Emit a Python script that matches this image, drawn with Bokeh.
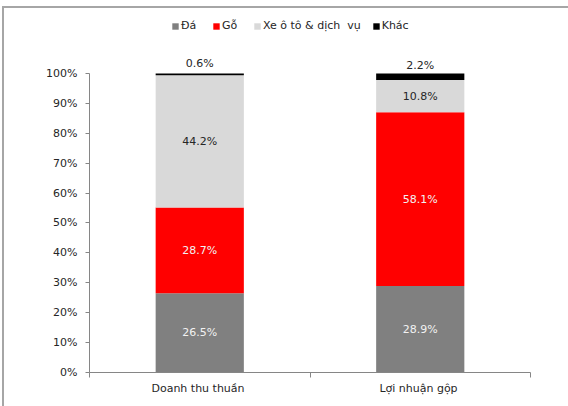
from bokeh.plotting import figure
from bokeh.layouts import column
from bokeh.models import (ColumnDataSource, Legend, LegendItem, FixedTicker,
                          NumeralTickFormatter, Range1d, Div)
from bokeh.core.properties import value
from bokeh.embed import file_html
from bokeh.resources import INLINE

categories = ["Doanh thu  thuần", "Lợi nhuận  gộp"]
series = ["Đá", "Gỗ", "Xe ô tô & dịch  vụ", "Khác"]
da = [26.5, 28.9]
go = [28.7, 58.1]
xe = [44.2, 10.8]
khac = [0.6, 2.2]
colors = ["#808080", "#FF0000", "#D9D9D9", "#000000"]
label_colors = ["#F2F2F2", "#F2F2F2", "#262626", "#262626"]
y_ticks = [0, 10, 20, 30, 40, 50, 60, 70, 80, 90, 100]

FONT = "DejaVu Sans"

xs = [i + 0.5 for i in range(len(categories))]
vals = [da, go, xe, khac]
keys = ["da", "go", "xe", "khac"]
data = {"x": xs}
for k, v in zip(keys, vals):
    data[k] = [a / 100 for a in v]
source = ColumnDataSource(data)

W, H = 564, 398
p = figure(width=W, height=H, output_backend="svg", toolbar_location=None,
           x_range=Range1d(0, len(categories)), y_range=Range1d(0, 1.204),
           min_border_left=85, min_border_right=38, min_border_top=4,
           min_border_bottom=34)
p.styles = {"margin-left": "2px", "box-shadow": "-2px 0px 0px 0px #a6a6a6"}
p.outline_line_color = None
p.grid.visible = False
p.background_fill_color = "white"
p.border_fill_color = "white"

rs = p.vbar_stack(keys, x="x", width=0.4, color=colors, source=source, line_width=0)

# labels
bottoms = [0.0] * len(categories)
for si, (k, v) in enumerate(zip(keys, vals)):
    lx, ly, lt = [], [], []
    for ci in range(len(categories)):
        h = v[ci] / 100
        lx.append(xs[ci])
        ly.append(bottoms[ci] + h / 2)
        lt.append(f"{v[ci]:.1f}%")
        bottoms[ci] += h
    p.text(x=lx, y=ly, text=lt, text_align="center", text_baseline="middle",
           y_offset=-11 if si == 3 else 0,
           text_font=value(FONT), text_font_size="11px",
           text_color=label_colors[si])

# axes
yax = p.yaxis[0]
yax.ticker = FixedTicker(ticks=[t / 100 for t in y_ticks])
yax.formatter = NumeralTickFormatter(format="0%")
yax.bounds = (0, 1)
yax.axis_line_color = "#868686"
yax.major_tick_line_color = "#868686"
yax.major_tick_out = 4
yax.major_tick_in = 0
yax.minor_tick_line_color = None
yax.major_label_text_font = FONT
yax.major_label_text_font_size = "11px"
yax.major_label_text_color = "#262626"
yax.major_label_standoff = 8

xax = p.xaxis[0]
xax.ticker = FixedTicker(ticks=xs, minor_ticks=list(range(len(categories) + 1)))
xax.major_label_overrides = {x: c for x, c in zip(xs, categories)}
xax.axis_line_color = "#868686"
xax.major_tick_line_color = None
xax.major_tick_out = 0
xax.major_tick_in = 0
xax.minor_tick_line_color = "#868686"
xax.minor_tick_out = 5
xax.minor_tick_in = 0
xax.major_label_text_font = FONT
xax.major_label_text_font_size = "11px"
xax.major_label_text_color = "#262626"
xax.major_label_standoff = 4

legend = Legend(items=[LegendItem(label=s, renderers=[r]) for s, r in zip(series, rs)],
                orientation="horizontal", location=(82, 340),
                glyph_width=8, glyph_height=8, label_standoff=2, spacing=11,
                padding=0, margin=0, border_line_alpha=0, background_fill_alpha=0,
                label_text_font=FONT, label_text_font_size="11px",
                label_text_color="#262626", label_height=12)
p.add_layout(legend, "center")

top_line = Div(text="", width=566, height=2, margin=(0, 0, 0, 0),
               styles={"background-color": "#a6a6a6", "height": "2px",
                       "min-height": "2px", "max-height": "2px",
                       "overflow": "hidden", "font-size": "0px",
                       "line-height": "0px", "padding": "0px"})
layout = column(top_line, p, spacing=0,
                styles={"margin-left": "2px", "margin-top": "6px"})

open("out.html", "w").write(file_html(layout, INLINE))
